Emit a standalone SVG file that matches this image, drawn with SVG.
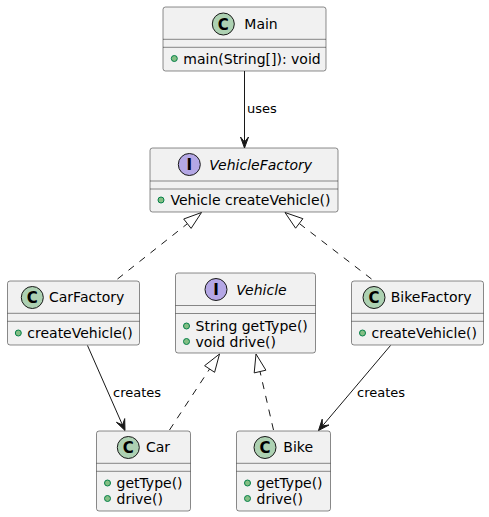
<svg xmlns="http://www.w3.org/2000/svg" width="489" height="517" viewBox="0 0 489 517">
<style>
.box{fill:#F1F1F1;stroke:#181818;stroke-width:0.5}
.sep{stroke:#181818;stroke-width:0.5}
.cc{fill:#ADD1B2;stroke:#181818;stroke-width:1}
.ci{fill:#B4A7E5;stroke:#181818;stroke-width:1}
.glyph{font-family:"DejaVu Sans",sans-serif;font-size:15px;font-weight:bold;fill:#000;text-anchor:middle}
.name{font-family:"DejaVu Sans",sans-serif;font-size:14px;fill:#000}
.iname{font-family:"DejaVu Sans",sans-serif;font-size:14px;font-style:italic;fill:#000}
.mem{font-family:"DejaVu Sans",sans-serif;font-size:14px;fill:#000}
.dot{fill:#84BE84;stroke:#038048;stroke-width:1}
.lbl{font-family:"DejaVu Sans",sans-serif;font-size:13px;fill:#000}
.edge{stroke:#181818;stroke-width:1;fill:none}
.dash{stroke:#181818;stroke-width:1;fill:none;stroke-dasharray:7,7}
.head{fill:#181818;stroke:#181818;stroke-width:1}
.tri{fill:#FFFFFF;stroke:#181818;stroke-width:1}
</style>
<g id="connectors">
<line class="edge" x1="244.5" y1="71" x2="244.5" y2="146"/>
<polygon class="head" points="240.5,137 244.5,148 248.5,137 244.5,142"/>
<text class="lbl" x="247" y="113">uses</text>
<line class="dash" x1="117.5" y1="279" x2="187.4" y2="223.7"/>
<polygon class="tri" points="201.5,212.5 191.1,228.4 183.7,219"/>
<line class="dash" x1="371.5" y1="279" x2="299.3" y2="223.5"/>
<polygon class="tri" points="285,212.5 302.9,218.7 295.6,228.2"/>
<line class="dash" x1="169.5" y1="430" x2="209.6" y2="369"/>
<polygon class="tri" points="219.5,354 214.6,372.3 204.6,365.7"/>
<line class="dash" x1="273.5" y1="430" x2="260" y2="371.5"/>
<polygon class="tri" points="256,354 265.9,370.2 254.2,372.9"/>
<line class="edge" x1="87.5" y1="345.5" x2="124" y2="428.5"/>
<polygon class="head" points="116.4,422.3 125,430.5 124.7,418.6 122.6,425"/>
<text class="lbl" x="113" y="397">creates</text>
<line class="edge" x1="390.5" y1="345.5" x2="320" y2="428.8"/>
<polygon class="head" points="322.2,419.2 318.5,430.5 329,425 322.4,425.9"/>
<text class="lbl" x="357" y="397">creates</text>
</g>
<g id="Main">
<rect class="box" x="163" y="7" width="163" height="64" rx="2.5"/>
<circle class="cc" cx="223.3" cy="24" r="11"/>
<text class="glyph" x="223.3" y="29.5">C</text>
<text class="name" x="244.3" y="28.5">Main</text>
<line class="sep" x1="163" y1="39.3" x2="326" y2="39.3"/>
<line class="sep" x1="163" y1="47.3" x2="326" y2="47.3"/>
<circle class="dot" cx="174.3" cy="58.5" r="3"/>
<text class="mem" x="183.3" y="63.5">main(String[]): void</text>
</g>
<g id="VehicleFactory">
<rect class="box" x="150" y="148" width="188" height="64" rx="2.5"/>
<circle class="ci" cx="189.3" cy="164.5" r="11"/>
<text class="glyph" x="189.3" y="170">I</text>
<text class="iname" x="209.3" y="169.5">VehicleFactory</text>
<line class="sep" x1="150" y1="181" x2="338" y2="181"/>
<line class="sep" x1="150" y1="189" x2="338" y2="189"/>
<circle class="dot" cx="161" cy="200" r="3"/>
<text class="mem" x="170.5" y="205">Vehicle createVehicle()</text>
</g>
<g id="CarFactory">
<rect class="box" x="7.5" y="281" width="132" height="64" rx="2.5"/>
<circle class="cc" cx="32.3" cy="297.5" r="11"/>
<text class="glyph" x="32.3" y="303">C</text>
<text class="name" x="49" y="302">CarFactory</text>
<line class="sep" x1="7.5" y1="313.3" x2="139.5" y2="313.3"/>
<line class="sep" x1="7.5" y1="321.3" x2="139.5" y2="321.3"/>
<circle class="dot" cx="18.3" cy="333" r="3"/>
<text class="mem" x="27.3" y="338">createVehicle()</text>
</g>
<g id="Vehicle">
<rect class="box" x="175.5" y="273" width="140" height="80" rx="2.5"/>
<circle class="ci" cx="216" cy="289.5" r="11"/>
<text class="glyph" x="216" y="295">I</text>
<text class="iname" x="236.3" y="294.5">Vehicle</text>
<line class="sep" x1="175.5" y1="305.5" x2="315.5" y2="305.5"/>
<line class="sep" x1="175.5" y1="313.5" x2="315.5" y2="313.5"/>
<circle class="dot" cx="186.5" cy="326" r="3"/>
<text class="mem" x="195.5" y="331">String getType()</text>
<circle class="dot" cx="186.5" cy="341.5" r="3"/>
<text class="mem" x="195.5" y="346.5">void drive()</text>
</g>
<g id="BikeFactory">
<rect class="box" x="351.5" y="281" width="132" height="64" rx="2.5"/>
<circle class="cc" cx="374" cy="297.5" r="11"/>
<text class="glyph" x="374" y="303">C</text>
<text class="name" x="390.7" y="302">BikeFactory</text>
<line class="sep" x1="351.5" y1="313.3" x2="483.5" y2="313.3"/>
<line class="sep" x1="351.5" y1="321.3" x2="483.5" y2="321.3"/>
<circle class="dot" cx="362.5" cy="333" r="3"/>
<text class="mem" x="371.5" y="338">createVehicle()</text>
</g>
<g id="Car">
<rect class="box" x="96.5" y="431" width="94" height="80" rx="2.5"/>
<circle class="cc" cx="128.3" cy="447.5" r="11"/>
<text class="glyph" x="128.3" y="453">C</text>
<text class="name" x="146" y="452">Car</text>
<line class="sep" x1="96.5" y1="463.3" x2="190.5" y2="463.3"/>
<line class="sep" x1="96.5" y1="471.3" x2="190.5" y2="471.3"/>
<circle class="dot" cx="107.5" cy="483" r="3"/>
<text class="mem" x="116.5" y="488">getType()</text>
<circle class="dot" cx="107.5" cy="498.5" r="3"/>
<text class="mem" x="116.5" y="503.5">drive()</text>
</g>
<g id="Bike">
<rect class="box" x="236.5" y="431" width="94" height="80" rx="2.5"/>
<circle class="cc" cx="265" cy="447.5" r="11"/>
<text class="glyph" x="265" y="453">C</text>
<text class="name" x="283.3" y="452">Bike</text>
<line class="sep" x1="236.5" y1="463.3" x2="330.5" y2="463.3"/>
<line class="sep" x1="236.5" y1="471.3" x2="330.5" y2="471.3"/>
<circle class="dot" cx="247.5" cy="483" r="3"/>
<text class="mem" x="256.5" y="488">getType()</text>
<circle class="dot" cx="247.5" cy="498.5" r="3"/>
<text class="mem" x="256.5" y="503.5">drive()</text>
</g>
</svg>
